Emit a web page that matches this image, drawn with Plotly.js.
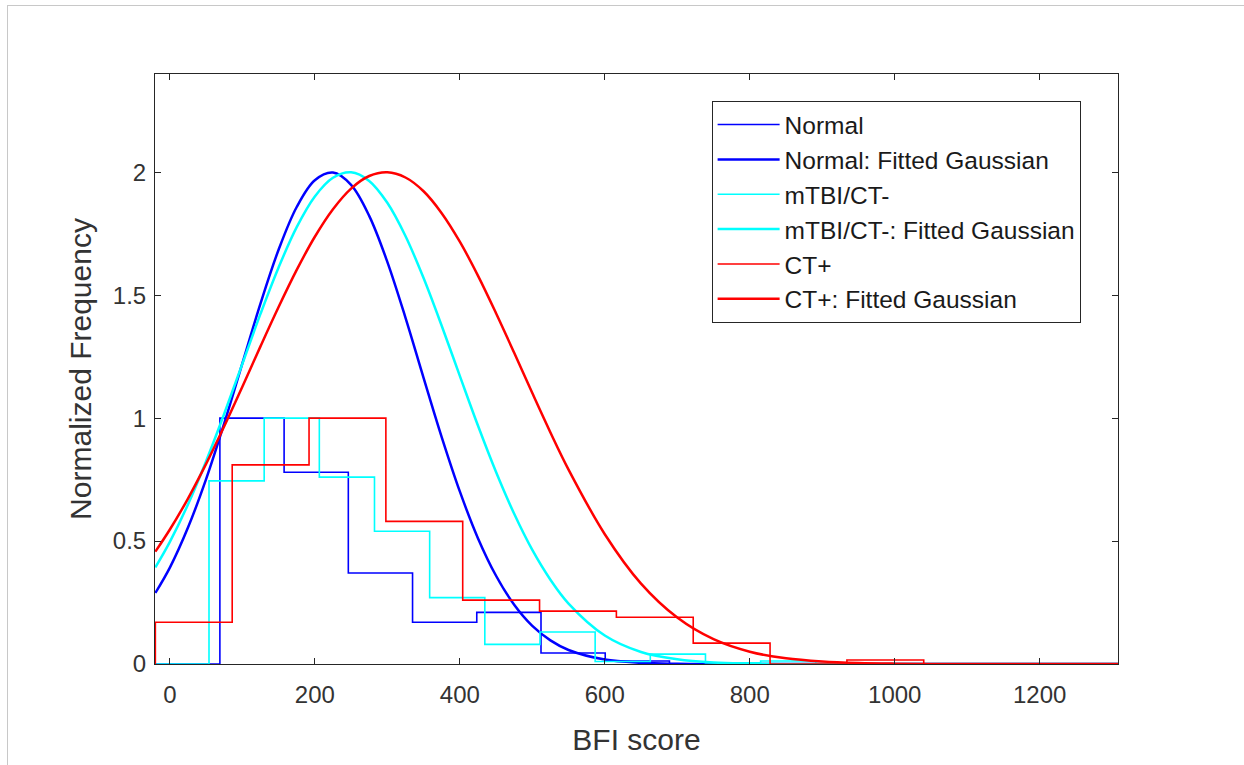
<!DOCTYPE html>
<html>
<head>
<meta charset="utf-8">
<script src="https://cdn.plot.ly/plotly-3.0.1.min.js"></script>
<style>
  html, body { margin: 0; padding: 0; background: #fff; }
  #frame { position: absolute; left: 7px; top: 5px; width: 1237px; height: 760px;
           border-top: 1px solid #c8c8c8; border-left: 1px solid #c8c8c8; pointer-events: none; }
  #chart { width: 1244px; height: 765px; }
</style>
</head>
<body>
<div id="chart"></div>
<div id="frame"></div>
<script>
// ---- Histogram (stairs) data: bin edges and normalized heights ----
const normalEdges = [69, 157.6, 246.2, 334.8, 423.4, 512, 600.6, 689.2];
const normalHist  = [1.0, 0.78, 0.37, 0.17, 0.21, 0.045, 0.012];

const mtbiEdges = [54, 130.1, 206.2, 282.3, 358.4, 434.5, 510.6, 586.7, 662.8, 738.9, 815, 891.1];
const mtbiHist  = [0.745, 1.0, 0.76, 0.54, 0.27, 0.08, 0.13, 0.01, 0.04, 0.005, 0.012];

const ctEdges = [-20, 86, 192, 298, 404, 510, 616, 722, 828, 934, 1040];
const ctHist  = [0.17, 0.81, 1.0, 0.58, 0.26, 0.215, 0.19, 0.085, 0.0, 0.016];

// ---- Fitted curves, values ----
const curveX = [-20, 0, 25, 50, 75, 100, 125, 150, 175, 200, 225, 250, 275, 300, 325, 350, 375, 400,
                425, 450, 475, 500, 525, 550, 600, 650, 700, 750, 800, 850, 900, 950, 1000, 1050, 1100, 1200, 1308];
const normalFit = [0.289, 0.392, 0.555, 0.752, 0.979, 1.223, 1.466, 1.685, 1.859, 1.968, 1.999, 1.949, 1.823, 1.636, 1.409, 1.164, 0.923, 0.702,
                   0.512, 0.359, 0.241, 0.155, 0.096, 0.057, 0.018, 0.005, 0.001, 0, 0, 0, 0, 0, 0, 0, 0, 0, 0];
const mtbiFit   = [0.393, 0.497, 0.649, 0.825, 1.018, 1.221, 1.424, 1.613, 1.777, 1.902, 1.978, 2.0, 1.965, 1.876, 1.741, 1.570, 1.376, 1.172,
                   0.970, 0.781, 0.611, 0.464, 0.343, 0.246, 0.116, 0.049, 0.019, 0.006, 0.002, 0.0005, 0, 0, 0, 0, 0, 0, 0];
const ctFit     = [0.457, 0.547, 0.673, 0.814, 0.967, 1.128, 1.292, 1.452, 1.603, 1.738, 1.850, 1.934, 1.985, 2.0, 1.979, 1.923, 1.834, 1.718,
                   1.580, 1.427, 1.266, 1.102, 0.942, 0.791, 0.528, 0.327, 0.189, 0.101, 0.050, 0.023, 0.010, 0.004, 0.0015, 0.0005, 0, 0, 0];

const xTicks = [0, 200, 400, 600, 800, 1000, 1200];
const yTicks = [0, 0.5, 1, 1.5, 2];
const yTickLabels = ['0', '0.5', '1', '1.5', '2'];

const xMin = -20.5, xMax = 1308;

function stairs(edges, vals) {
  const x = [xMin], y = [0];
  for (let i = 0; i < vals.length; i++) { x.push(edges[i]); y.push(vals[i]); }
  x.push(edges[edges.length - 1]); y.push(0);
  x.push(xMax); y.push(0);
  return {x, y};
}

const FONT = 'Liberation Sans, Arial, Helvetica, sans-serif';
const BLUE = '#0000ff', CYAN = '#00ffff', RED = '#ff0000';

const sN = stairs(normalEdges, normalHist);
const sM = stairs(mtbiEdges, mtbiHist);
const sC = stairs(ctEdges, ctHist);

const HW = 1.6, CW = 2.5;
const traces = [
  {x: sN.x, y: sN.y, mode: 'lines', line: {shape: 'hv', color: BLUE, width: HW}, name: 'Normal', legendgroup: 'a'},
  {x: curveX, y: normalFit, mode: 'lines', line: {shape: 'spline', color: BLUE, width: CW}, name: 'Normal: Fitted Gaussian', legendgroup: 'b'},
  {x: sM.x, y: sM.y, mode: 'lines', line: {shape: 'hv', color: CYAN, width: HW}, name: 'mTBI/CT-', legendgroup: 'c'},
  {x: curveX, y: mtbiFit, mode: 'lines', line: {shape: 'spline', color: CYAN, width: CW}, name: 'mTBI/CT-: Fitted Gaussian', legendgroup: 'd'},
  {x: sC.x, y: sC.y, mode: 'lines', line: {shape: 'hv', color: RED, width: HW}, name: 'CT+', legendgroup: 'e'},
  {x: curveX, y: ctFit, mode: 'lines', line: {shape: 'spline', color: RED, width: CW}, name: 'CT+: Fitted Gaussian', legendgroup: 'f'}
];

const axisCommon = {
  showline: true, mirror: 'ticks', linecolor: '#262626', linewidth: 1,
  ticks: 'inside', ticklen: 6, tickcolor: '#262626', tickwidth: 1,
  showgrid: false, zeroline: false,
  tickfont: {family: FONT, size: 24, color: '#333333'}
};

const layout = {
  width: 1244, height: 765,
  margin: {l: 155, r: 126, t: 74, b: 101},
  paper_bgcolor: '#ffffff', plot_bgcolor: '#ffffff',
  showlegend: true,
  xaxis: Object.assign({}, axisCommon, {
    range: [xMin, xMax], tickvals: xTicks, ticklabelstandoff: 9,
    title: {text: 'BFI score', font: {family: FONT, size: 30, color: '#333333'}, standoff: 22}
  }),
  yaxis: Object.assign({}, axisCommon, {
    range: [0, 2.4], tickvals: yTicks, ticktext: yTickLabels, ticklabelstandoff: 3,
    title: {text: 'Normalized Frequency', font: {family: FONT, size: 30, color: '#333333'}, standoff: 12}
  }),
  legend: {
    x: 0.578, y: 0.954, xanchor: 'left', yanchor: 'top',
    bgcolor: '#ffffff', bordercolor: '#262626', borderwidth: 1,
    font: {family: FONT, size: 24.5, color: '#1a1a1a'},
    traceorder: 'grouped', tracegroupgap: 0, itemwidth: 62
  }
};

Plotly.newPlot('chart', traces, layout, {staticPlot: true, displayModeBar: false});
</script>
</body>
</html>
